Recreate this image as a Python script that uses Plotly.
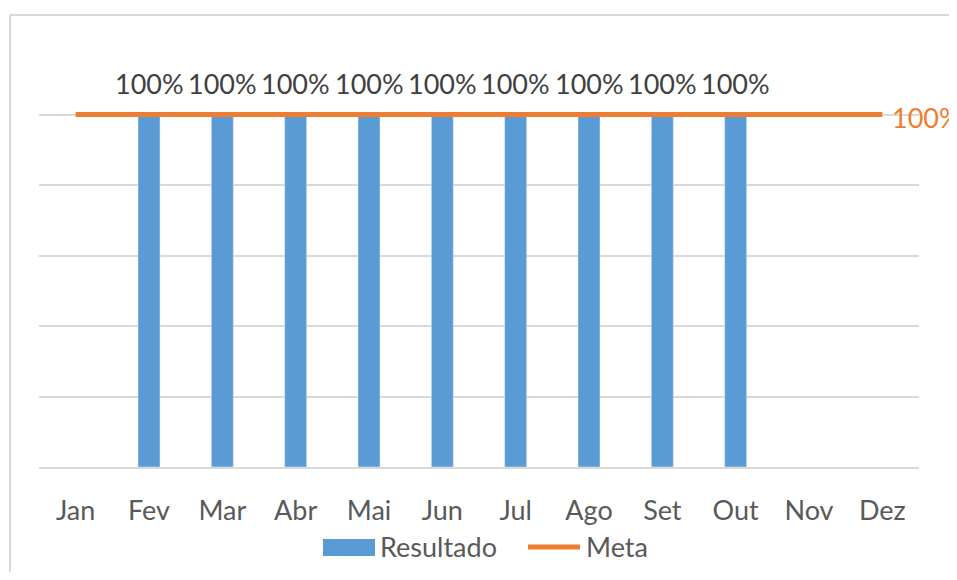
import plotly.graph_objects as go

months = ["Jan", "Fev", "Mar", "Abr", "Mai", "Jun", "Jul", "Ago", "Set", "Out", "Nov", "Dez"]
resultado = [None, 1.0, 1.0, 1.0, 1.0, 1.0, 1.0, 1.0, 1.0, 1.0, None, None]
meta = [1.0] * 12

BLUE = "#5B9BD5"
ORANGE = "#ED7D31"
GRID = "#D9D9D9"
FONT = "Lato, Calibri, sans-serif"

# the page body adds an 8px margin on every side; keep the figure inside it
OFF = 8
W, H = 957 - 2 * OFF, 580 - 2 * OFF
# plot area in page pixels: x 39..919, y 44..467
L, R, T, B = 39 - OFF, 919 - OFF, 44 - OFF, 467 - OFF


def px(x):
    return (x - OFF - L) / (R - L)


def py(y):
    return (B - (y - OFF)) / (B - T)


fig = go.Figure()
fig.add_trace(go.Bar(
    x=months, y=resultado, name="Resultado",
    marker={"color": BLUE}, width=0.3,
))
fig.add_trace(go.Scatter(
    x=months, y=meta, name="Meta", mode="lines",
    line={"color": ORANGE, "width": 5},
))

annotations = []
for m, v in zip(months, resultado):
    if v is None:
        continue
    annotations.append(dict(
        x=m, y=v, text=f"{v:.0%}", showarrow=False,
        yanchor="bottom", yshift=13,
        font={"size": 27, "color": "#404040", "family": FONT},
    ))
annotations.append(dict(
    x=months[-1], y=meta[-1], text=f"{meta[-1]:.0%}", showarrow=False,
    xanchor="left", xshift=8, yshift=-3,
    font={"size": 27, "color": ORANGE, "family": FONT},
))
# legend texts
annotations.append(dict(
    xref="paper", yref="paper", x=px(378), y=py(546), text="Resultado",
    showarrow=False, xanchor="left", yanchor="middle",
    font={"size": 27, "color": "#595959", "family": FONT},
))
annotations.append(dict(
    xref="paper", yref="paper", x=px(584), y=py(546), text="Meta",
    showarrow=False, xanchor="left", yanchor="middle",
    font={"size": 27, "color": "#595959", "family": FONT},
))

shapes = [
    # chart border (only left and top sides are in view)
    dict(type="line", xref="paper", yref="paper",
         x0=px(10), x1=px(10), y0=py(600), y1=py(15),
         line={"color": GRID, "width": 2}, layer="below"),
    dict(type="line", xref="paper", yref="paper",
         x0=px(10), x1=px(980), y0=py(15), y1=py(15),
         line={"color": GRID, "width": 2}, layer="below"),
    # legend swatches
    dict(type="rect", xref="paper", yref="paper",
         x0=px(323), x1=px(375), y0=py(556), y1=py(539),
         fillcolor=BLUE, line={"width": 0}),
    dict(type="line", xref="paper", yref="paper",
         x0=px(528), x1=px(580), y0=py(547), y1=py(547),
         line={"color": ORANGE, "width": 5}),
]

fig.update_layout(
    width=W, height=H,
    margin={"l": L, "r": W - R, "t": T, "b": H - B},
    paper_bgcolor="white", plot_bgcolor="white",
    showlegend=False,
    font={"family": FONT, "size": 27, "color": "#595959"},
    xaxis={
        "range": [-0.5, 11.5],
        "showgrid": False, "showline": True, "linecolor": GRID, "linewidth": 2,
        "ticks": "", "ticklabelstandoff": 19,
        "tickfont": {"size": 27, "color": "#595959", "family": FONT},
    },
    yaxis={
        "range": [0, 1.2], "dtick": 0.2, "showticklabels": False,
        "gridcolor": GRID, "gridwidth": 1.5, "zeroline": False,
        "showline": False,
    },
    annotations=annotations,
    shapes=shapes,
)

fig.write_html("out.html")
